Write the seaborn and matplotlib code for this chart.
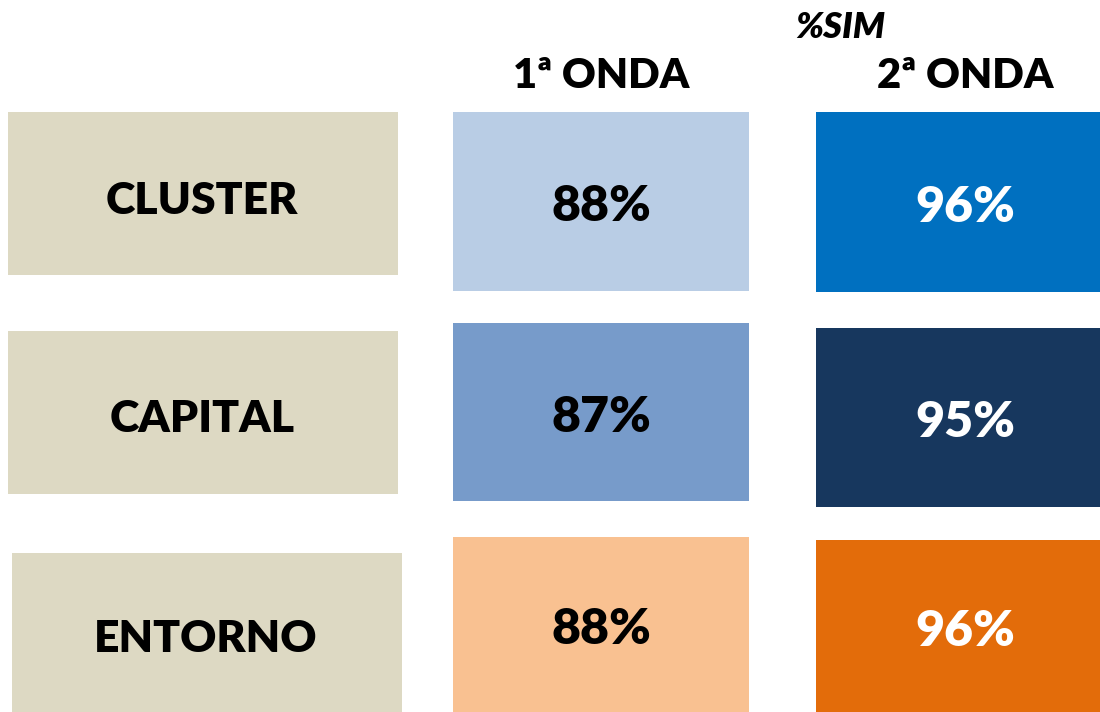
import matplotlib
matplotlib.use("Agg")
import matplotlib.pyplot as plt
import seaborn as sns

# ---- data ----
categories = ["CLUSTER", "CAPITAL", "ENTORNO"]
wave_labels = ["1ª ONDA", "2ª ONDA"]
wave1_values = [88, 87, 88]
wave2_values = [96, 95, 96]
subtitle = "%SIM"

# ---- styling / layout (pixel space) ----
label_color = "#DDD9C3"
wave1_colors = ["#B9CDE5", "#779BCA", "#F9C191"]
wave2_colors = ["#0070C0", "#17375E", "#E36C0A"]
wave1_text = "black"
wave2_text = "white"

label_x = [(8, 398), (8, 398), (12, 402)]
label_y = [(112, 275), (331, 494), (553, 712)]
w1_x = (453, 749)
w1_y = [(112, 291), (323, 501), (537, 712)]
w2_x = (816, 1100)
w2_y = [(112, 292), (328, 507), (540, 712)]

sns.set_theme(style="white")
plt.rcParams["font.family"] = ["Lato", "DejaVu Sans"]

fig = plt.figure(figsize=(11, 7.12), dpi=100)
ax = fig.add_axes([0, 0, 1, 1])
ax.set_xlim(0, 1100)
ax.set_ylim(712, 0)
ax.axis("off")

FS_LABEL = 32
FS_VAL = 36
FS_HEAD = 30
W = "heavy"
DY = 5

for i, cat in enumerate(categories):
    (x0, x1), (y0, y1) = label_x[i], label_y[i]
    ax.bar(x0, y1 - y0, width=x1 - x0, bottom=y0, align="edge",
           color=label_color, linewidth=0)
    ax.text((x0 + x1) / 2 - 1, (y0 + y1) / 2 + DY + 2, cat, ha="center", va="center",
            fontsize=FS_LABEL, fontweight=W, color="black")

    (y0, y1) = w1_y[i]
    ax.bar(w1_x[0], y1 - y0, width=w1_x[1] - w1_x[0], bottom=y0, align="edge",
           color=wave1_colors[i], linewidth=0)
    ax.text((w1_x[0] + w1_x[1]) / 2, (y0 + y1) / 2 + DY, f"{wave1_values[i]}%",
            ha="center", va="center", fontsize=FS_VAL, fontweight=W,
            color=wave1_text)

    (y0, y1) = w2_y[i]
    ax.bar(w2_x[0], y1 - y0, width=w2_x[1] - w2_x[0], bottom=y0, align="edge",
           color=wave2_colors[i], linewidth=0)
    ax.text(965, (y0 + y1) / 2 + DY, f"{wave2_values[i]}%",
            ha="center", va="center", fontsize=FS_VAL, fontweight=W,
            color=wave2_text)

ax.text(601, 76, wave_labels[0], ha="center", va="center",
        fontsize=FS_HEAD, fontweight=W, color="black")
ax.text(965, 76, wave_labels[1], ha="center", va="center",
        fontsize=FS_HEAD, fontweight=W, color="black")
ax.text(840, 28, subtitle, ha="center", va="center", fontsize=26,
        fontweight=W, fontstyle="italic", color="black")

fig.savefig("out.png", dpi=100)
